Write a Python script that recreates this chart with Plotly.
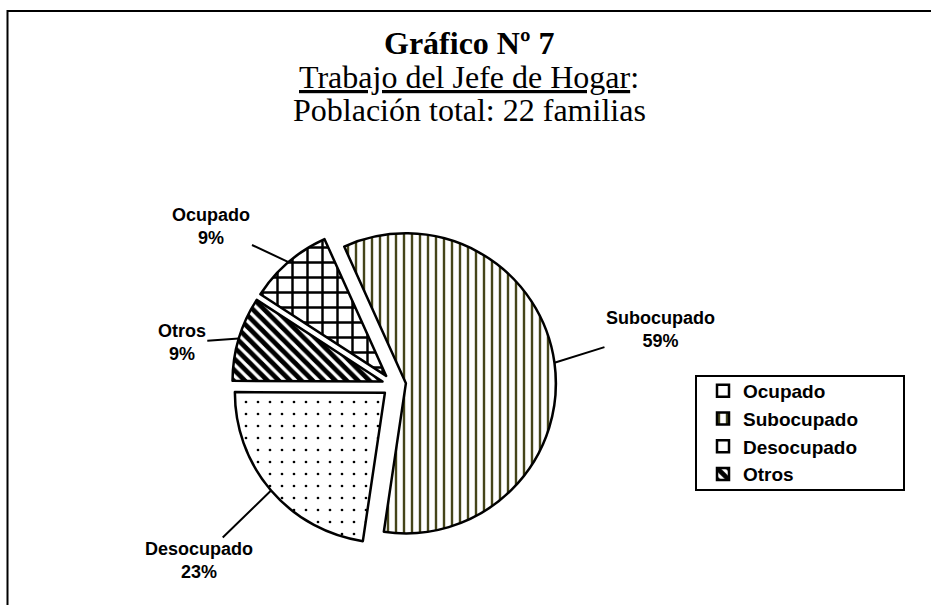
import math
import plotly.graph_objects as go

# datos: trabajo del jefe de hogar (22 familias)
labels = ["Ocupado", "Subocupado", "Desocupado", "Otros"]
familias = [2, 13, 5, 2]
patrones = ["+", "|", ".", "\\"]
color_trama = ["#000000", "#45451a", "#000000", "#000000"]

W, H = 931, 605
rotacion = -57
tirar = 0.08
cx, cy, radio = 394, 385, 150  # centro y radio del pastel (px)

fig = go.Figure(go.Pie(
    labels=[f"<b>{l}</b>" for l in labels], values=familias, sort=False,
    direction="clockwise", rotation=rotacion, pull=[tirar] * 4, textinfo="none",
    hoverinfo="label+percent",
    domain=dict(x=[(cx - radio * (1 + tirar)) / W, (cx + radio * (1 + tirar)) / W],
                y=[1 - (cy + radio * (1 + tirar)) / H, 1 - (cy - radio * (1 + tirar)) / H]),
    marker=dict(colors=["white"] * 4, line=dict(color="black", width=2.5),
                pattern=dict(shape=patrones, fgcolor=color_trama, bgcolor="white",
                             fgopacity=1, size=[15, 8, 12, 8],
                             solidity=[0.3, 0.3, 0.04, 0.6], fillmode="replace")),
))

# etiquetas con lineas guia, calculadas desde los valores
total = sum(familias)
desplaz = {"Ocupado": (-77, -36), "Subocupado": (106, -33),
           "Desocupado": (-72, 70), "Otros": (-57, 4)}
acum = 0
for lab, v in zip(labels, familias):
    ang = math.radians(rotacion + 360 * (acum + v / 2) / total)
    acum += v
    px = cx + radio * (1 + tirar) * math.sin(ang)
    py = cy - radio * (1 + tirar) * math.cos(ang)
    pct = round(100 * v / total)
    ax, ay = desplaz[lab]
    fig.add_annotation(x=px / W, y=1 - py / H, xref="paper", yref="paper",
                       text=f"<b>{lab}</b><br><b>{pct}%</b>", showarrow=True,
                       arrowhead=0, arrowwidth=2, arrowcolor="black", ax=ax, ay=ay,
                       font=dict(family="Liberation Sans, Arial", size=18, color="black"))

# titulo en tres lineas
titulos = ["<b>Gráfico Nº 7</b>", "<u>Trabajo del Jefe de Hogar</u>:",
           "Población total: 22 familias"]
for t, yy in zip(titulos, [43, 77, 110]):
    fig.add_annotation(x=469 / W, y=1 - yy / H, xref="paper", yref="paper",
                       text=t, showarrow=False, xanchor="center", yanchor="middle",
                       font=dict(family="Liberation Serif, Times New Roman", size=32,
                                 color="black"))

# marco del grafico y recuadro de la leyenda
fig.add_shape(type="rect", xref="paper", yref="paper", x0=7.5 / W, x1=1.02,
              y0=-0.02, y1=1 - 11 / H, line=dict(color="black", width=2))
fig.add_shape(type="rect", xref="paper", yref="paper", x0=696 / W, x1=904 / W,
              y0=1 - 490 / H, y1=1 - 376 / H, line=dict(color="black", width=2))

fig.update_layout(
    width=W, height=H, margin=dict(l=0, r=0, t=0, b=0),
    paper_bgcolor="white", plot_bgcolor="white",
    legend=dict(x=703 / W, y=1 - 372 / H, xanchor="left", yanchor="top",
                borderwidth=0, bgcolor="rgba(0,0,0,0)", traceorder="normal",
                font=dict(family="Liberation Sans, Arial", size=19, color="black")),
)

fig.write_html("out.html", config={"displayModeBar": False},
               post_script="document.body.style.margin='0px';")
